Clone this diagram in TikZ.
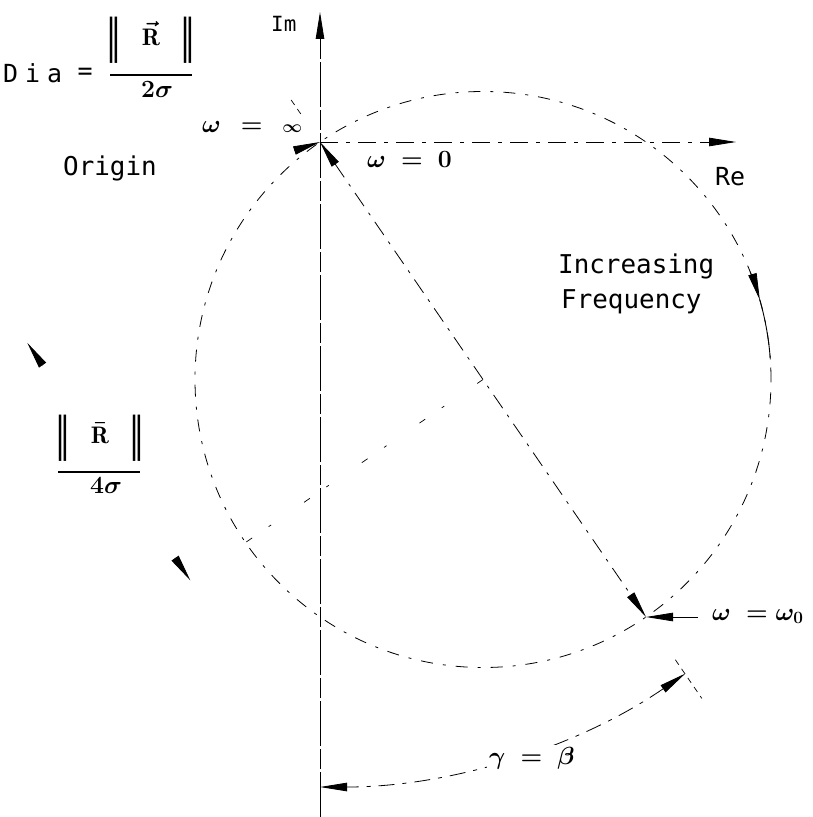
\documentclass[tikz,border=0pt]{standalone}
\usepackage{fontspec}
\newfontfamily\mono{DejaVu Sans Mono}
\newfontfamily\dvs{DejaVu Sans}
\usetikzlibrary{arrows.meta,calc}
\tikzset{
  wtip/.tip={Triangle[length=27bp,width=8.5bp]},
  axisIm/.style={line width=0.9bp, dash pattern=on 45bp off 3bp on 20bp off 3bp, -wtip},
  axisRe/.style={line width=0.8bp, dash pattern=on 18bp off 8bp on 4bp off 8bp, -wtip},
  circ/.style={line width=0.8bp, dash pattern=on 12bp off 10bp on 3bp off 10bp},
  diam/.style={line width=0.8bp, dash pattern=on 16bp off 8bp on 3bp off 8bp},
  gam/.style={line width=0.8bp, dash pattern=on 16bp off 8bp on 4bp off 8bp},
  ext/.style={line width=0.7bp, dash pattern=on 6bp off 5bp},
  perp/.style={line width=0.7bp, dash pattern=on 7bp off 40bp on 3bp off 20bp},
  wedge/.style={line width=0.8bp, -wtip},
  lbl/.style={font=\mono\fontsize{26}{30}\selectfont, inner sep=0pt},
  mth/.style={font=\fontsize{24}{29}\selectfont\boldmath, inner sep=0pt},
}
\newcommand{\normbar}{\raisebox{-7bp}{\scalebox{1}[1.55]{\dvs\fontsize{30}{32}\selectfont ‖}}}
\begin{document}
\begin{tikzpicture}[x=1bp,y=-1bp]
\fill[white] (0,0) rectangle (813,817);
\useasboundingbox (0,0) rectangle (813,817);
% key points
\coordinate (O) at (320,142);
\coordinate (W) at (646,617);
\coordinate (C) at ($(O)!0.5!(W)$);
\coordinate (ImTop) at (320,12);
\coordinate (ImBot) at (320,817);
\coordinate (ReEnd) at (736,142);
% axes
\draw[axisIm] (ImBot) -- (ImTop);
\draw[axisRe] (O) -- (ReEnd);
% locus circle
\draw[circ] (C) circle[radius=288bp];
% increasing frequency arrow
\coordinate (F1) at ($(C)+(22:288bp)$);
\coordinate (F2) at ($(C)+(16:288bp)$);
\draw[wedge] (F1) arc[start angle=22,end angle=16,radius=288bp];
\draw[line width=0.9bp] (F2) arc[start angle=16,end angle=4,radius=288bp];
% arrow of the locus arriving at the origin (omega = infinity)
\coordinate (Ainf) at (296,150);
\draw[wedge] (Ainf) -- (O);
% diameter
\draw[diam, wtip-wtip] (O) -- (W);
% extension lines of the diameter
\coordinate (E1) at ($(O)!-34bp!(W)$);
\coordinate (E2) at ($(O)!-52bp!(W)$);
\coordinate (E3) at ($(O)!628bp!(W)$);
\coordinate (E4) at ($(O)!675bp!(W)$);
\draw[ext] (E1) -- (E2);
\draw[ext] (E3) -- (E4);
% radius dimension
\coordinate (P1) at ($(O)!355bp!-90:(W)$);
\coordinate (P2) at ($(C)!355bp!-90:(W)$);
\coordinate (P3) at ($(C)!290bp!-90:(W)$);
\draw[perp] (C) -- (P3);
\coordinate (Q1) at ($(P1)!27bp!(P2)$);
\coordinate (Q2) at ($(P2)!27bp!(P1)$);
\draw[wedge] (Q1) -- (P1);
\draw[wedge] (Q2) -- (P2);
% angle gamma = beta
\coordinate (G1) at ($(O)+(-55.5:645bp)$);
\draw[gam, wtip-wtip] (G1) arc[start angle=-55.5,end angle=-90,radius=645bp];
% leader to omega_0
\coordinate (L0) at (698,617);
\draw[wedge] (L0) -- (W);
% labels
\node[lbl, font=\mono\fontsize{21}{24}\selectfont, anchor=base west] (im) at (271,32) {Im};
\node[lbl, font=\mono\fontsize{25}{30}\selectfont, anchor=base west] (dia) at (3,82) {D\kern7bp i\kern7bp a};
\node[lbl, font=\mono\fontsize{25}{30}\selectfont, anchor=base] (diaeq) at (85,80) {=};
\node[mth] (dnum) at (151,40) {\normbar\hspace{20bp}$\vec{\mathrm{R}}$\hspace{20bp}\normbar};
\coordinate (B1a) at (110,75);
\coordinate (B1b) at (192,75);
\draw[line width=1.2bp] (B1a) -- (B1b);
\node[mth, anchor=base] (dden) at (157,97) {$2\sigma$};
\node[mth] (rnum) at (100,438) {\normbar\hspace{20bp}$\bar{\mathrm{R}}$\hspace{20bp}\normbar};
\coordinate (B2a) at (58,472);
\coordinate (B2b) at (140,472);
\draw[line width=1.2bp] (B2a) -- (B2b);
\node[mth, anchor=base] (rden) at (106,493) {$4\sigma$};
\node[lbl, anchor=base] (orig) at (110,175) {Origin};
\node[lbl, anchor=base west] (incr) at (558,273) {Increasing};
\node[lbl, anchor=base west] (freq) at (561,308) {Frequency};
\node[lbl, font=\mono\fontsize{25}{30}\selectfont, anchor=base west] (re) at (715,185) {Re};
\node[mth, anchor=base west] (winf) at (202,132) {$\omega\enspace=\enspace{\scriptstyle\infty}$};
\node[mth, anchor=base west] (wzero) at (367,167) {$\omega\ =\ 0$};
\node[mth, anchor=base west] (wnull) at (712,620) {$\omega\ =\omega_{0}$};
\node[mth, anchor=base west, fill=white, inner sep=2bp] (gb) at (487,764) {$\gamma\ =\ \beta$};
\end{tikzpicture}
\end{document}
